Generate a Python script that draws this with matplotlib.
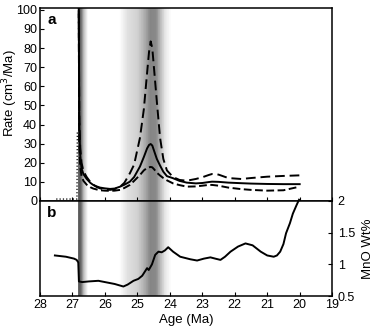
import matplotlib
matplotlib.use("Agg")
import matplotlib.pyplot as plt
import numpy as np

plt.rcParams['font.family'] = ['Liberation Sans', 'DejaVu Sans']

# Rate curves (cm^3/Ma): central estimate with upper and lower bounds
rate_age = [26.81, 26.79, 26.76, 26.72, 26.66, 26.56, 26.45, 26.36, 26.25, 26.15,
            26.0, 25.84, 25.7, 25.53, 25.4, 25.23, 25.1, 24.92, 24.8, 24.7,
            24.64, 24.59, 24.54, 24.48, 24.4, 24.3, 24.2, 24.09, 23.9, 23.7,
            23.48, 23.2, 23.0, 22.8, 22.7, 22.5, 22.2, 21.8, 21.5, 21.0,
            20.5, 20.0]
rate_mid = [120, 40, 24, 17, 14, 11.5, 9.5, 8.4, 7.6, 7.0,
            6.6, 6.3, 6.5, 7.5, 8.5, 10.1, 12.5, 18, 23, 27.5,
            29.3, 29.8, 29.0, 26, 22, 18.5, 15.3, 13, 11.9, 10.5,
            9.6, 9.2, 9.4, 9.9, 10.1, 10.0, 9.6, 9.3, 9.1, 8.9,
            8.8, 8.8]
rate_upper = [120, 45, 28, 20, 15.5, 12.5, 10, 8.5, 7.3, 6.6,
              6.0, 5.8, 6.2, 7.5, 9.5, 14.5, 19, 33, 48, 67,
              78, 83.5, 80, 68, 52, 33, 22, 16, 12.5, 11,
              10.6, 11.5, 12.4, 13.6, 14.1, 13.8, 12, 11.5, 12, 12.7,
              13.1, 13.4]
rate_lower = [120, 30, 18, 13, 10.5, 8.5, 7.2, 6.5, 6.0, 5.6,
              5.4, 5.3, 5.4, 5.8, 6.8, 8.4, 10.5, 13.6, 16.0, 17.3,
              17.6, 17.8, 17.6, 16.5, 14.8, 13.3, 12.0, 10.8, 9.2, 8.3,
              7.5, 7.6, 8.0, 8.4, 8.4, 8.0, 7.0, 6.2, 5.8, 5.4,
              5.6, 7.5]
early_age = [27.5, 26.86, 26.85]
early_rate = [1, 1, 36]

# MnO content (wt%)
mno_age = [27.54, 27.2, 26.95, 26.87, 26.82, 26.8, 26.7, 26.5, 26.2, 26.0,
           25.7, 25.43, 25.3, 25.12, 24.97, 24.85, 24.75, 24.7, 24.65, 24.55,
           24.45, 24.35, 24.25, 24.15, 24.05, 23.9, 23.68, 23.37, 23.16, 22.95,
           22.75, 22.6, 22.44, 22.3, 22.13, 21.9, 21.67, 21.45, 21.2, 21.0,
           20.8, 20.7, 20.6, 20.5, 20.42, 20.3, 20.21, 20.1, 20.02]
mno_wt = [1.14, 1.12, 1.09, 1.07, 1.03, 0.73, 0.72, 0.73, 0.74, 0.72,
          0.69, 0.65, 0.68, 0.74, 0.77, 0.82, 0.90, 0.94, 0.91, 1.0,
          1.15, 1.20, 1.19, 1.22, 1.27, 1.20, 1.12, 1.08, 1.06, 1.09,
          1.11, 1.09, 1.07, 1.12, 1.20, 1.28, 1.33, 1.30, 1.20, 1.14,
          1.12, 1.14, 1.20, 1.32, 1.49, 1.65, 1.80, 1.93, 2.02]

age_ticks = [28, 27, 26, 25, 24, 23, 22, 21, 20, 19]
rate_ticks = list(range(0, 101, 10))
mno_ticks = [0.5, 1, 1.5, 2]
mno_labels = ['0.5', '1', '1.5', '2']

# shaded event bands: grey-level nodes along age
bands = [
    ([26.83, 26.81, 26.74, 26.65, 26.52], [1.0, 0.32, 0.4, 0.75, 1.0]),
    ([25.55, 25.3, 25.0, 24.75, 24.6, 24.42, 24.3, 24.15, 23.95],
     [1.0, 0.88, 0.82, 0.66, 0.52, 0.54, 0.72, 0.9, 1.0]),
]

fig = plt.figure(figsize=(3.77, 3.30), dpi=100)
ax_a = fig.add_axes([0.106, 0.391, 0.775, 0.585])
ax_b = fig.add_axes([0.106, 0.103, 0.775, 0.288], sharex=ax_a)


def shade(ax):
    # thin vertical strips give the soft grey gradient
    for xs, gs in bands:
        edges = np.linspace(xs[0], xs[-1], 80)
        mids = 0.5 * (edges[:-1] + edges[1:])
        grey = np.interp(mids[::-1], xs[::-1], gs[::-1])[::-1]
        for x0, x1, g in zip(edges[:-1], edges[1:], grey):
            ax.axvspan(x0, x1, color=str(round(float(g), 3)), lw=0, zorder=0.5)


shade(ax_a)
ax_a.plot(rate_age, rate_upper, color='black', lw=1.4, ls=(0, (5, 2.5)), zorder=3)
ax_a.plot(rate_age, rate_mid, color='black', lw=1.4, zorder=3)
ax_a.plot(rate_age, rate_lower, color='black', lw=1.4, ls=(0, (4, 1.8)), zorder=3)
ax_a.plot(early_age, early_rate, color='black', lw=0.9, ls=':', zorder=3)
ax_a.set_xlim(28, 19)
ax_a.set_ylim(0, 101)
ax_a.set_yticks(rate_ticks)
ax_a.set_xticks(age_ticks)
ax_a.tick_params(direction='in', labelsize=9, length=3, pad=2)
ax_a.tick_params(axis='x', labelbottom=False)
ax_a.set_ylabel('Rate (cm$^3$/Ma)', fontsize=9.5)
ax_a.yaxis.set_label_coords(-0.068, 0.56)
ax_a.text(0.025, 0.975, 'a', transform=ax_a.transAxes, fontsize=11,
          fontweight='bold', va='top', ha='left')

shade(ax_b)
ax_b.plot(mno_age, mno_wt, color='black', lw=1.4, zorder=3, clip_on=False)
ax_b.set_ylim(0.5, 2.0)
ax_b.set_xticks(age_ticks)
ax_b.set_xticklabels([str(t) for t in age_ticks])
ax_b.yaxis.tick_right()
ax_b.yaxis.set_label_position('right')
ax_b.set_yticks(mno_ticks)
ax_b.set_yticklabels(mno_labels)
ax_b.tick_params(direction='in', labelsize=9, length=3, pad=2)
ax_b.tick_params(axis='y', pad=4)
ax_b.set_xlabel('Age (Ma)', fontsize=9.5, labelpad=2)
ax_b.set_ylabel('MnO Wt%', fontsize=9.5, labelpad=5)
ax_b.text(0.025, 0.95, 'b', transform=ax_b.transAxes, fontsize=11,
          fontweight='bold', va='top', ha='left')
ax_b.set_xlim(28, 19)

for ax in (ax_a, ax_b):
    for sp in ax.spines.values():
        sp.set_linewidth(1.1)

fig.savefig('out.png', dpi=100)
